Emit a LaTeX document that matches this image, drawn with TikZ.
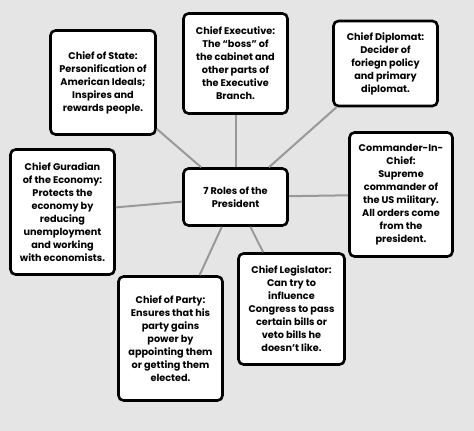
\documentclass[tikz,border=0pt]{standalone}
\usepackage{fontspec}
\setmainfont{Poppins}
\begin{document}
\begin{tikzpicture}[x=1pt,y=-1pt,
  role/.style={draw=black, fill=white, line width=2.6pt, rounded corners=5pt,
    align=center, inner sep=0pt, font=\fontsize{9.7}{13}\selectfont\bfseries},
  link/.style={draw=black!40, line width=2pt}]
\fill[fill=black!10] (0,0) rectangle (474,431);
\useasboundingbox (0,0) rectangle (474,431);
\node[role, minimum width=105pt, minimum height=104pt] (state) at (103,82.5)
  {Chief of State:\\Personification of\\American Ideals;\\Inspires and\\rewards people.};
\node[role, minimum width=104pt, minimum height=100pt] (exec) at (235.5,63.5)
  {Chief Executive:\\The ``boss'' of\\the cabinet and\\other parts of\\the Executive\\Branch.};
\node[role, minimum width=104pt, minimum height=85pt] (dipl) at (385.5,63.5)
  {Chief Diplomat:\\Decider of\\foriegn policy\\and primary\\diplomat.};
\node[role, minimum width=103pt, minimum height=124pt] (cmd) at (401,194.5)
  {Commander-In-\\Chief:\\Supreme\\commander of\\the US military.\\All orders come\\from the\\president.};
\node[role, minimum width=104pt, minimum height=125pt] (econ) at (62.5,212)
  {Chief Guradian\\of the Economy:\\Protects the\\economy by\\reducing\\unemployment\\and working\\with economists.};
\node[role, minimum width=104pt, minimum height=57pt] (ctr) at (235.5,197)
  {7 Roles of the\\President};
\node[role, minimum width=104pt, minimum height=124pt] (party) at (170.5,338.5)
  {Chief of Party:\\Ensures that his\\party gains\\power by\\appointing them\\or getting them\\elected.};
\node[role, minimum width=106pt, minimum height=111pt] (legis) at (291.5,309)
  {Chief Legislator:\\Can try to\\influence\\Congress to pass\\certain bills or\\veto bills he\\doesn’t like.};
\draw[link] (ctr) -- (state);
\draw[link] (ctr) -- (exec);
\draw[link] (ctr) -- (dipl);
\draw[link] (ctr) -- (cmd);
\draw[link] (ctr) -- (econ);
\draw[link] (ctr) -- (party);
\draw[link] (ctr) -- (legis);
\end{tikzpicture}
\end{document}
